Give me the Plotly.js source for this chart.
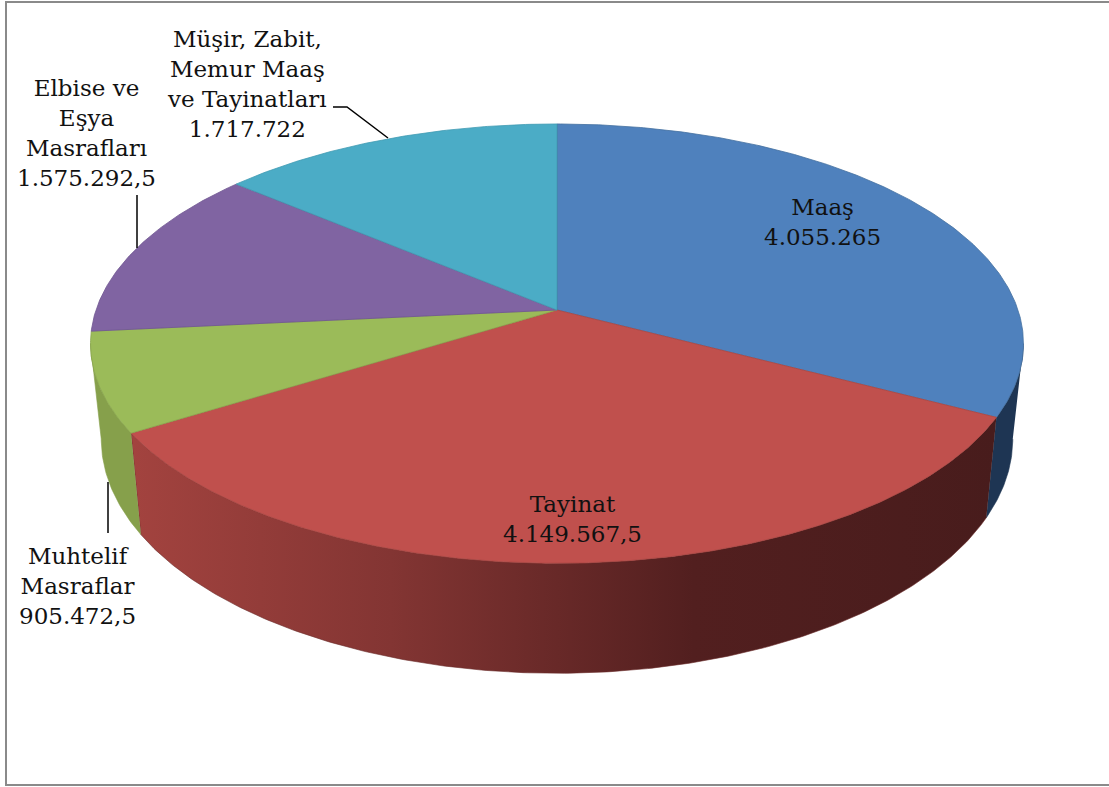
<!DOCTYPE html>
<html><head><meta charset="utf-8">
<script src="https://cdn.plot.ly/plotly-3.0.1.min.js"></script>
<style>html,body{margin:0;padding:0;background:#fff;}</style>
</head><body><div id="chart" style="width:1109px;height:787px;"></div>
<script>
// ---- data ----
const categories = ['Maaş', 'Tayinat', 'Muhtelif Masraflar', 'Elbise ve Eşya Masrafları', 'Müşir, Zabit, Memur Maaş ve Tayinatları'];
const values = [4055265, 4149567.5, 905472.5, 1575292.5, 1717722];
const labelLines = ['Maaş', 'Tayinat', 'Muhtelif<br>Masraflar', 'Elbise ve<br>Eşya<br>Masrafları', 'Müşir, Zabit,<br>Memur Maaş<br>ve Tayinatları'];

// ---- style ----
const topColors  = ['#4F81BD', '#C0504D', '#9BBB59', '#8064A2', '#4BACC6'];
const edgeColors = ['#44709f', '#a94643', '#89a64e', '#6f5690', '#409ab2'];
const sideColors = ['#1E3553', '#8f3a37', '#86A04B', '#4d3c62', '#2d6b7c'];
const labelPos = [[822, 222], [572, 519], [77, 586], [86, 133], [247, 84]];
const CX = 557, CY = 310, A = 461, B = 214.5, K = 0.153, D = 93.2, SHRINK = 0.977;

function fmtTR(v) {
  const ip = Math.floor(v), frac = Math.round((v - ip) * 10);
  let s = String(ip).replace(/\B(?=(\d{3})+(?!\d))/g, '.');
  if (frac) s += ',' + frac;
  return s;
}
function pt(deg, drop) {
  const t = deg * Math.PI / 180, s = 1 / (1 + K * Math.cos(t));
  const sx = drop ? SHRINK : 1;
  return [CX + A * Math.sin(t) * s * sx, CY - B * Math.cos(t) * s + drop * D * s];
}
const total = values.reduce((a, b) => a + b, 0);
const bounds = []; let acc = 0;
values.forEach(v => { const a0 = acc / total * 360; acc += v; bounds.push([a0, acc / total * 360]); });

const thMin = Math.acos(-K) * 180 / Math.PI, thMax = 360 - thMin;
const sideTraces = [], topTraces = [];
bounds.forEach(([a0, a1], i) => {
  const s0 = Math.max(a0, thMin), s1 = Math.min(a1, thMax);
  if (s1 > s0) {
    const xs = [], ys = [], n = Math.max(8, Math.ceil((s1 - s0) * 2));
    for (let j = 0; j <= n; j++) { const p = pt(s0 + (s1 - s0) * j / n, 0); xs.push(p[0]); ys.push(p[1]); }
    for (let j = n; j >= 0; j--) { const p = pt(s0 + (s1 - s0) * j / n, 1); xs.push(p[0]); ys.push(p[1]); }
    const tr = {type: 'scatter', mode: 'lines', x: xs, y: ys, fill: 'toself', hoverinfo: 'skip',
      line: {width: 0.6, color: sideColors[i]}, fillcolor: sideColors[i], showlegend: false};
    if (i === 1) {
      tr.fillgradient = {type: 'horizontal', colorscale: [[0, '#a3433f'], [0.3, '#833533'], [0.65, '#521f1f'], [1, '#481c1c']]};
      tr.line.color = '#6a2a28';
    }
    sideTraces.push(tr);
  }
  const xs = [CX], ys = [CY], n = Math.max(8, Math.ceil((a1 - a0) * 2));
  for (let j = 0; j <= n; j++) { const p = pt(a0 + (a1 - a0) * j / n, 0); xs.push(p[0]); ys.push(p[1]); }
  xs.push(CX); ys.push(CY);
  topTraces.push({type: 'scatter', mode: 'lines', x: xs, y: ys, fill: 'toself', hoverinfo: 'skip',
    line: {width: 0.8, color: edgeColors[i]}, fillcolor: topColors[i], showlegend: false});
});

const annotations = categories.map((c, i) => ({
  x: labelPos[i][0], y: labelPos[i][1], xref: 'x', yref: 'y', showarrow: false,
  text: labelLines[i] + '<br>' + fmtTR(values[i]), align: 'center', xanchor: 'center', yanchor: 'middle',
  font: {family: 'DejaVu Serif, serif', size: 23, color: '#111'}
}));

const shapes = [
  {type: 'rect', xref: 'x', yref: 'y', x0: 6, x1: 1116, y0: 2, y1: 785, line: {color: '#8a8a8a', width: 2}},
  {type: 'path', xref: 'x', yref: 'y', path: 'M333,107 L347,107 L388,138', line: {color: '#000', width: 1.5}},
  {type: 'path', xref: 'x', yref: 'y', path: 'M137,195 L137,248', line: {color: '#000', width: 1.5}},
  {type: 'path', xref: 'x', yref: 'y', path: 'M108,482 L108,533', line: {color: '#000', width: 1.5}}
];

Plotly.newPlot('chart', sideTraces.concat(topTraces), {
  width: 1109, height: 787, margin: {l: 0, r: 0, t: 0, b: 0},
  paper_bgcolor: '#fff', plot_bgcolor: '#fff',
  xaxis: {range: [0, 1109], visible: false, fixedrange: true},
  yaxis: {range: [787, 0], visible: false, fixedrange: true},
  annotations: annotations, shapes: shapes, showlegend: false
}, {staticPlot: true});
</script></body></html>
